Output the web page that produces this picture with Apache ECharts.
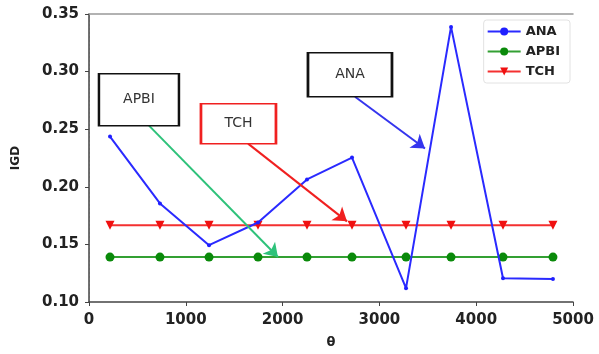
<!DOCTYPE html>
<html><head><meta charset="utf-8">
<script src="https://cdn.jsdelivr.net/npm/echarts@6/dist/echarts.min.js"></script>
<style>html,body{margin:0;padding:0;background:#fff}#c{width:599px;height:354px}</style>
</head><body><div id="c"></div>
<script>
const theta = [217, 733, 1240, 1746, 2252, 2717, 3275, 3740, 4277, 4793];
const ana  = [0.2436, 0.1856, 0.1493, 0.169, 0.2064, 0.2254, 0.112, 0.3388, 0.1206, 0.1200];
const apbi = [0.139, 0.139, 0.139, 0.139, 0.139, 0.139, 0.139, 0.139, 0.139, 0.139];
const tch  = [0.1666, 0.1666, 0.1666, 0.1666, 0.1666, 0.1666, 0.1666, 0.1666, 0.1666, 0.1666];
const yTicks = [0.10, 0.15, 0.20, 0.25, 0.30, 0.35];
const xTicks = [0, 1000, 2000, 3000, 4000, 5000];
// annotations (data coords): box centers and arrow endpoints
const apbiBox = [516, 0.2756], apbiArrow = [[620, 0.2531], [1952, 0.139]];
const tchBox = [1544, 0.2548], tchArrow = [[1643, 0.2375], [2665, 0.170]];
const anaBox = [2696, 0.2972], anaArrow = [[2748, 0.2782], [3471, 0.2332]];

const F = 'DejaVu Sans';
const pair = (xs, ys) => xs.map((x, i) => [x, ys[i]]);
function box(coord, text, w, h, border) {
  return {
    silent: true, symbol: 'rect', symbolSize: [w, h],
    itemStyle: { color: '#fff', borderColor: border, borderWidth: 2 },
    label: { show: true, position: 'inside', formatter: text, color: '#333', fontFamily: F, fontSize: 14 },
    data: [{ coord: coord }], z: 10
  };
}
function arrow(seg, color) {
  return {
    silent: true, symbol: ['none', 'arrow'], symbolSize: 13, animation: false,
    lineStyle: { color: color, width: 2, type: 'solid' }, label: { show: false },
    data: [[{ coord: seg[0] }, { coord: seg[1] }]], z: 9
  };
}
const chart = echarts.init(document.getElementById('c'), null, { renderer: 'canvas' });
chart.setOption({
  animation: false,
  backgroundColor: '#fff',
  grid: { left: 89, right: 26, top: 14, bottom: 51, containLabel: false },
  legend: {
    orient: 'vertical', right: 29, top: 20, itemWidth: 33, itemHeight: 10, itemGap: 7,
    borderColor: '#e2e2e2', borderWidth: 1, borderRadius: 3, padding: [5, 10, 5, 3],
    textStyle: { fontFamily: F, fontWeight: 'bold', fontSize: 13, color: '#222' },
    data: ['ANA', 'APBI', 'TCH']
  },
  xAxis: [{
    type: 'value', min: 0, max: 5000, interval: 1000, name: 'θ', nameLocation: 'middle', nameGap: 34,
    nameTextStyle: { fontFamily: F, fontWeight: 'bold', fontSize: 13, color: '#222' },
    axisLine: { lineStyle: { color: '#444', width: 1.5 } },
    axisTick: { show: true, length: 4, lineStyle: { color: '#444' } },
    axisLabel: { fontFamily: F, fontWeight: 'bold', fontSize: 15, color: '#222', margin: 11, formatter: v => String(v) },
    splitLine: { show: false }
  }, {
    type: 'value', position: 'top', min: 0, max: 5000,
    axisLine: { show: true, lineStyle: { color: '#999', width: 1.5 } },
    axisTick: { show: false }, axisLabel: { show: false }, splitLine: { show: false }
  }],
  yAxis: [{
    type: 'value', min: 0.10, max: 0.35, interval: 0.05, name: 'IGD', nameLocation: 'middle', nameGap: 67,
    nameTextStyle: { fontFamily: F, fontWeight: 'bold', fontSize: 12, color: '#222' },
    axisLine: { show: true, lineStyle: { color: '#444', width: 1.5 } },
    axisTick: { show: true, length: 4, lineStyle: { color: '#444' } },
    axisLabel: { fontFamily: F, fontWeight: 'bold', fontSize: 15, color: '#222', margin: 10, formatter: v => v.toFixed(2) },
    splitLine: { show: false }
  }, {
    type: 'value', position: 'right', min: 0.10, max: 0.35,
    axisLine: { show: true, lineStyle: { color: '#666', width: 1, type: [2, 2] } },
    axisTick: { show: false }, axisLabel: { show: false }, splitLine: { show: false }
  }],
  series: [
    {
      name: 'ANA', type: 'line', data: pair(theta, ana), symbol: 'circle', symbolSize: 4, showSymbol: true,
      itemStyle: { color: '#1f1fff' }, lineStyle: { color: '#2a2aff', width: 2 }, z: 3,
      markPoint: box(anaBox, 'ANA', 84, 44, '#111'), markLine: arrow(anaArrow, '#3535ee')
    },
    {
      name: 'APBI', type: 'line', data: pair(theta, apbi), symbol: 'circle', symbolSize: 9,
      itemStyle: { color: '#0a8a0a' }, lineStyle: { color: '#33a033', width: 2 }, z: 2,
      markPoint: box(apbiBox, 'APBI', 80, 52, '#111'), markLine: arrow(apbiArrow, '#2ec27a')
    },
    {
      name: 'TCH', type: 'line', data: pair(theta, tch), symbol: 'triangle', symbolRotate: 180, symbolSize: 9,
      itemStyle: { color: '#f01010' }, lineStyle: { color: '#f43030', width: 2 }, z: 2,
      markPoint: box(tchBox, 'TCH', 75, 40, '#f02020'), markLine: arrow(tchArrow, '#f02020')
    }
  ]
});
</script></body></html>
